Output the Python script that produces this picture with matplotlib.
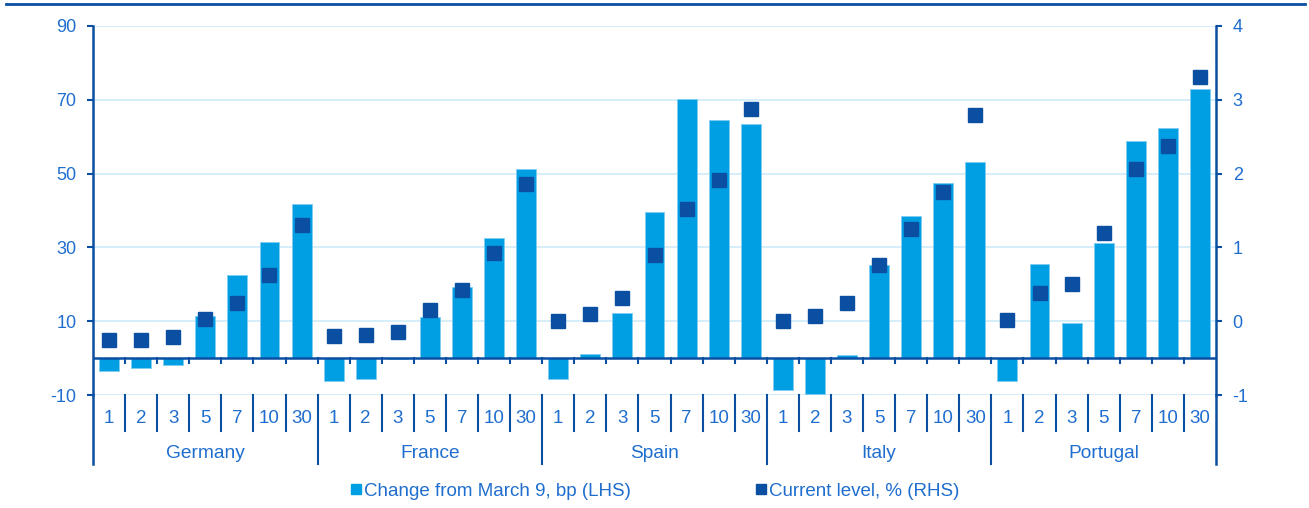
#!/usr/bin/env python3
import numpy as np
import matplotlib
matplotlib.use("Agg")
import matplotlib.pyplot as plt
from matplotlib.lines import Line2D

plt.rcParams['font.family'] = ['Liberation Sans', 'DejaVu Sans']
plt.rcParams['axes.unicode_minus'] = False

# data
countries = ['Germany', 'France', 'Spain', 'Italy', 'Portugal']
maturities = ['1', '2', '3', '5', '7', '10', '30']

change_bp = [
    -3.6, -2.8, -2.0, 11.3, 22.4, 31.4, 41.7,     # Germany
    -6.3, -5.7, -0.3, 11.2, 19.2, 32.6, 51.2,     # France
    -5.6, 1.0, 12.3, 39.6, 70.3, 64.6, 63.4,      # Spain
    -8.7, -9.7, 0.8, 25.3, 38.4, 47.4, 53.1,      # Italy
    -6.3, 25.5, 9.4, 31.2, 58.8, 62.3, 72.8,      # Portugal
]
level_pct = [
    -0.25, -0.25, -0.22, 0.03, 0.24, 0.62, 1.31,
    -0.20, -0.19, -0.14, 0.15, 0.42, 0.93, 1.86,
    0.00, 0.10, 0.31, 0.90, 1.52, 1.92, 2.87,
    0.00, 0.07, 0.25, 0.76, 1.25, 1.75, 2.80,
    0.02, 0.38, 0.51, 1.19, 2.06, 2.37, 3.31,
]
left_ticks = [-10, 10, 30, 50, 70, 90]
right_ticks = [-1, 0, 1, 2, 3, 4]
legend_labels = ['Change from March 9, bp (LHS)', 'Current level, % (RHS)']

bar_col = '#009FE3'
dot_col = '#0B4FA3'
axis_col = '#0B4FA3'
text_col = '#1F6ECF'
grid_col = '#CDEBF8'

W, H = 1309, 508
fig = plt.figure(figsize=(W / 100, H / 100), dpi=100)
ax = fig.add_axes([93 / W, 1 - 395 / H, (1216 - 93) / W, (395 - 26) / H])
ax2 = ax.twinx()

n = len(change_bp)
x = np.arange(n)

ax.bar(x, change_bp, width=0.62, color=bar_col, edgecolor='#7FCDF0', linewidth=0.6, zorder=3)
ax.set_xlim(-0.5, n - 0.5)
ax.set_ylim(-10, 90)
ax.set_yticks(left_ticks)
ax.set_xticks([])
for t in left_ticks:
    ax.axhline(t, color=grid_col, lw=1.2, zorder=1)
ax.axhline(0, color=axis_col, lw=1.8, zorder=4)

ax2.plot(x, level_pct, ls='none', marker='s', ms=9.5, color=dot_col, zorder=5)
ax2.set_ylim(-1, 4)
ax2.set_yticks(right_ticks)

for a in (ax, ax2):
    for s in ('top', 'bottom'):
        a.spines[s].set_visible(False)
    a.spines['left'].set_visible(a is ax)
    a.spines['right'].set_visible(a is ax2)
    a.tick_params(axis='y', colors=axis_col, labelcolor=text_col, labelsize=13,
                  length=4, width=1.5, pad=8)
ax.spines['left'].set_color(axis_col)
ax.spines['left'].set_linewidth(1.8)
ax2.spines['right'].set_color(axis_col)
ax2.spines['right'].set_linewidth(1.8)

# extend spines down through the category label area
y_bot = -28.6
for xe in (-0.5, n - 0.5):
    ax.plot([xe, xe], [-10, y_bot], color=axis_col, lw=1.8, clip_on=False, zorder=4)

# small ticks on the zero line, separators and category labels
for i in range(1, n):
    ax.plot([i - 0.5, i - 0.5], [0, -1.4], color=axis_col, lw=1.5, clip_on=False, zorder=4)
    if i % len(maturities) == 0:
        ax.plot([i - 0.5, i - 0.5], [-10, y_bot], color=axis_col, lw=1.5, clip_on=False)
    else:
        ax.plot([i - 0.5, i - 0.5], [-10, -19.7], color=axis_col, lw=1.5, clip_on=False)
for i in range(n):
    ax.text(i, -16.4, maturities[i % len(maturities)], ha='center', va='center',
            fontsize=13.5, color=text_col, clip_on=False)
for k, c in enumerate(countries):
    ax.text(k * len(maturities) + (len(maturities) - 1) / 2, -25.9, c, ha='center',
            va='center', fontsize=13.8, color=text_col, clip_on=False)

# top rule
fig.add_artist(Line2D([6 / W, 1305 / W], [1 - 4 / H, 1 - 4 / H], color=axis_col, lw=2))

# legend entries placed one by one
for col, lab, xl in zip([bar_col, dot_col], legend_labels, [351, 756]):
    h = Line2D([], [], ls='none', marker='s', ms=7.5, color=col)
    leg = fig.legend([h], [lab], loc='center left', bbox_to_anchor=(xl / W, 1 - 491 / H),
                     frameon=False, fontsize=13.5, handlelength=0.55, handletextpad=0.12,
                     borderpad=0, borderaxespad=0)
    for t in leg.get_texts():
        t.set_color(text_col)

fig.savefig('out.png', dpi=100)
